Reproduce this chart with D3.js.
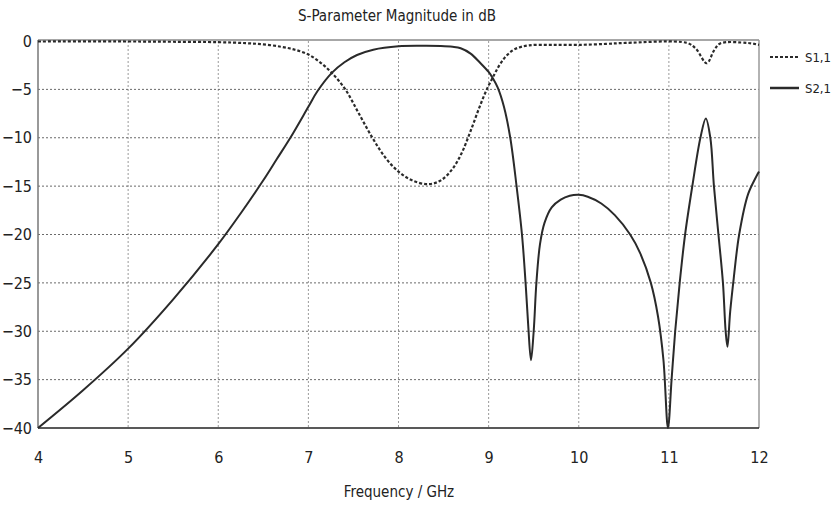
<!DOCTYPE html>
<html>
<head>
<meta charset="utf-8">
<script src="https://cdn.jsdelivr.net/npm/d3@7/dist/d3.min.js"></script>
<style>
  html, body { margin: 0; padding: 0; background: #fff; }
  svg { display: block; }
  text { font-family: "Liberation Sans Narrow", "DejaVu Sans Condensed", "Roboto Condensed", sans-serif; fill: #222; }
</style>
</head>
<body>
<svg id="chart" width="831" height="505"></svg>
<script>
// ---- data ----
const xTicks = [4, 5, 6, 7, 8, 9, 10, 11, 12];
const yTicks = [0, -5, -10, -15, -20, -25, -30, -35, -40];
const seriesNames = ["S1,1", "S2,1"];

const s11Freq = [4, 5, 5.5, 6, 6.3, 6.5, 6.7, 6.85, 7, 7.13, 7.26, 7.41, 7.56, 7.71, 7.85, 8, 8.15, 8.33, 8.47, 8.6, 8.7, 8.8, 8.9, 8.98, 9.05, 9.12, 9.2, 9.3, 9.45, 9.7, 10, 10.3, 10.52, 11.2, 11.3, 11.42, 11.5, 11.57, 11.87, 11.95, 12];
const s11dB   = [-0.05, -0.05, -0.08, -0.12, -0.22, -0.35, -0.6, -0.9, -1.4, -2.2, -3.3, -5, -7.5, -10, -12, -13.5, -14.4, -14.8, -14.4, -13.2, -11.6, -9.3, -6.8, -5, -3.7, -2.5, -1.5, -0.8, -0.45, -0.4, -0.4, -0.3, -0.2, -0.2, -0.8, -2.3, -1.0, -0.25, -0.2, -0.3, -0.4];

const s21Freq = [4, 4.5, 5, 5.5, 6, 6.25, 6.5, 6.65, 6.8, 7.0, 7.1, 7.26, 7.4, 7.54, 7.72, 8, 8.25, 8.47, 8.6, 8.69, 8.8, 8.9, 9.0, 9.05, 9.1, 9.17, 9.24, 9.31, 9.37, 9.41, 9.44, 9.47, 9.5, 9.53, 9.57, 9.62, 9.7, 9.8, 9.9, 10, 10.1, 10.25, 10.4, 10.57, 10.68, 10.8, 10.88, 10.94, 10.99, 11.03, 11.07, 11.12, 11.18, 11.26, 11.35, 11.41, 11.46, 11.5, 11.55, 11.6, 11.63, 11.65, 11.68, 11.72, 11.78, 11.88, 12];
const s21dB   = [-40, -36.1, -31.8, -26.7, -21.0, -17.8, -14.4, -12.2, -10, -6.8, -5.2, -3.3, -2.2, -1.45, -0.9, -0.55, -0.5, -0.52, -0.6, -0.75, -1.3, -2.2, -3.2, -3.9, -4.8, -6.8, -10, -15, -20, -25, -29.5, -33, -30, -25, -21, -18.8, -17.2, -16.4, -16.0, -15.9, -16.1, -16.8, -18.0, -20, -21.9, -25, -28.5, -33, -40, -35, -30, -25, -20, -15, -10, -8, -10, -15, -20, -25, -30, -31.6, -28, -24.5, -20, -15.8, -13.5];

// ---- layout ----
const svg = d3.select("#chart");
const L = 38, R = 759, T = 41, B = 428;
const x = d3.scaleLinear().domain([4, 12]).range([L, R]);
const y = d3.scaleLinear().domain([-40, 0]).range([B, T]);

// grid
const grid = svg.append("g");
grid.selectAll("line.v").data(xTicks.slice(1, -1)).enter().append("line")
  .attr("x1", d => x(d)).attr("x2", d => x(d)).attr("y1", T).attr("y2", B)
  .attr("stroke", "#9a9a9a").attr("stroke-width", 1).attr("stroke-dasharray", "2,2");
grid.selectAll("line.h").data(yTicks.slice(1, -1)).enter().append("line")
  .attr("x1", L).attr("x2", R).attr("y1", d => y(d)).attr("y2", d => y(d))
  .attr("stroke", "#6a6a6a").attr("stroke-width", 1).attr("stroke-dasharray", "2,2");

// frame
svg.append("line").attr("x1", L).attr("x2", R).attr("y1", T - 1).attr("y2", T - 1).attr("stroke", "#8a8a8a").attr("stroke-width", 1.5);
svg.append("line").attr("x1", R).attr("x2", R).attr("y1", T - 1).attr("y2", B).attr("stroke", "#9a9a9a").attr("stroke-width", 1.5);
svg.append("line").attr("x1", L).attr("x2", L).attr("y1", T - 1).attr("y2", B).attr("stroke", "#777").attr("stroke-width", 1.5);
svg.append("line").attr("x1", L).attr("x2", R).attr("y1", B).attr("y2", B).attr("stroke", "#222").attr("stroke-width", 1.5);

// axes labels via d3 axes
const xAxis = d3.axisBottom(x).tickValues(xTicks).tickSize(0).tickPadding(0).tickFormat(d3.format("d"));
const gx = svg.append("g").attr("transform", `translate(0,${B})`).call(xAxis);
gx.select(".domain").remove();
gx.selectAll("text").attr("font-size", 16).attr("dy", 0).attr("y", 35).style("font-family", null).attr("fill", "#222");

const yAxis = d3.axisLeft(y).tickValues(yTicks).tickSize(0).tickPadding(6).tickFormat(d3.format("d"));
const gy = svg.append("g").attr("transform", `translate(${L},0)`).call(yAxis);
gy.select(".domain").remove();
gy.selectAll("text").attr("font-size", 16).attr("fill", "#222").style("font-family", null);

// title and axis label
svg.append("text").attr("x", 397).attr("y", 21).attr("text-anchor", "middle").attr("font-size", 15).text("S-Parameter Magnitude in dB");
svg.append("text").attr("x", 399).attr("y", 497).attr("text-anchor", "middle").attr("font-size", 15).text("Frequency / GHz");

// lines
const line = d3.line().x(d => x(d[0])).y(d => y(d[1])).curve(d3.curveCatmullRom.alpha(0.5));
const s11 = s11Freq.map((f, i) => [f, s11dB[i]]);
const s21 = s21Freq.map((f, i) => [f, s21dB[i]]);

svg.append("path").datum(s21).attr("d", line).attr("fill", "none")
  .attr("stroke", "#2a2a2a").attr("stroke-width", 2);
svg.append("path").datum(s11).attr("d", line).attr("fill", "none")
  .attr("stroke", "#2a2a2a").attr("stroke-width", 2.2).attr("stroke-dasharray", "3,2");

// legend
const leg = svg.append("g");
const legY = [57, 88];
const legDash = ["3,2", null];
seriesNames.forEach((name, i) => {
  leg.append("line").attr("x1", 770).attr("x2", 799).attr("y1", legY[i]).attr("y2", legY[i])
    .attr("stroke", "#2a2a2a").attr("stroke-width", i === 0 ? 2 : 2.5)
    .attr("stroke-dasharray", legDash[i]);
  leg.append("text").attr("x", 805).attr("y", legY[i] + 5).attr("font-size", 13).text(name);
});
</script>
</body>
</html>
